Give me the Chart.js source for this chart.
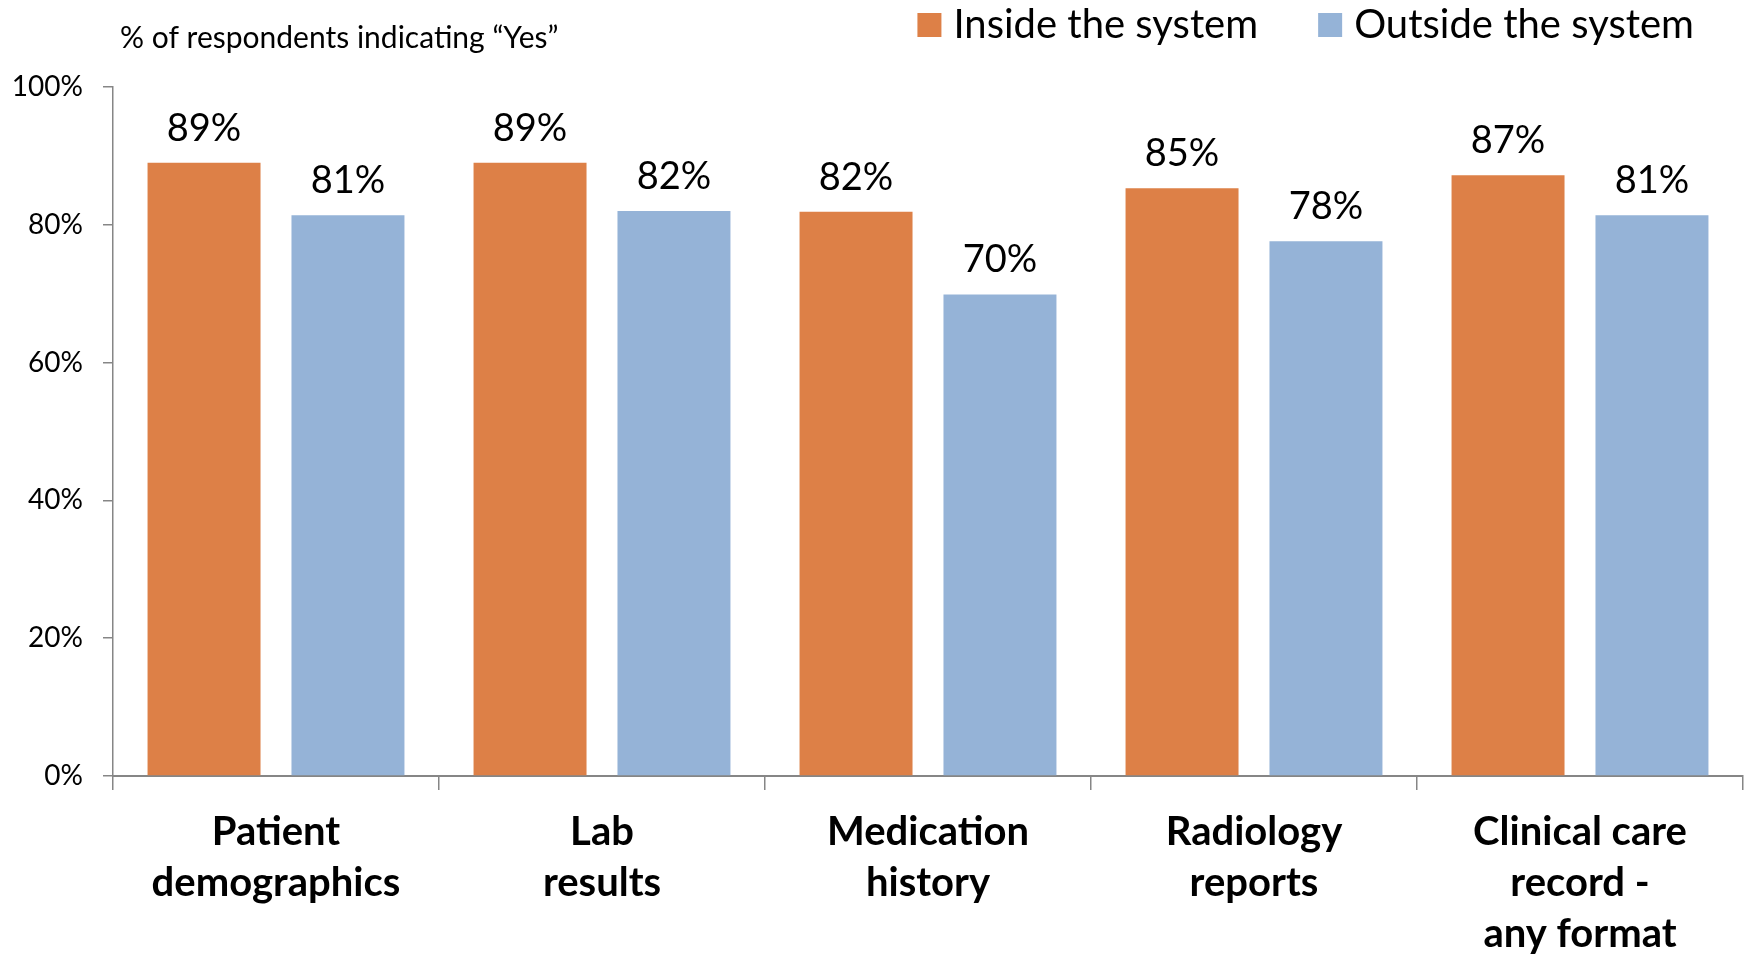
<!DOCTYPE html>
<html>
<head>
<meta charset="utf-8">
<title>Data available inside and outside the system</title>
<script src="https://cdn.jsdelivr.net/npm/chart.js"></script>
<style>
  html, body { margin: 0; padding: 0; background: #fff; }
  #wrap { width: 1750px; height: 957px; position: relative; }
</style>
</head>
<body>
<div id="wrap"><canvas id="chart"></canvas></div>
<script>
  // values (percent)
  const categories = [
    ['Patient', 'demographics'],
    ['Lab', 'results'],
    ['Medication', 'history'],
    ['Radiology', 'reports'],
    ['Clinical care', 'record -', 'any format']
  ];
  const insideValues = [89.0, 89.0, 81.9, 85.3, 87.2];
  const outsideValues = [81.4, 82.0, 69.9, 77.6, 81.4];
  const seriesNames = ['Inside the system', 'Outside the system'];
  const seriesColors = ['#DD8047', '#95B3D7'];
  const yTicks = [0, 20, 40, 60, 80, 100];
  const headerText = '% of respondents indicating \u201cYes\u201d';

  const FONT = 'Lato, "Open Sans", sans-serif';
  const axisGray = '#868686';

  // header text at top left and the legend at top right
  const headerPlugin = {
    id: 'header',
    afterDraw(chart) {
      const ctx = chart.ctx;
      ctx.save();
      ctx.fillStyle = '#000';
      ctx.textBaseline = 'middle';
      ctx.font = '30px ' + FONT;
      ctx.textAlign = 'left';
      ctx.fillText(headerText, 120, 38);

      // legend, laid out right to left so it ends near x=1694
      ctx.font = '40px ' + FONT;
      const box = 24, gapText = 12, gapItem = 60, y = 25;
      let right = 1694;
      const items = chart.data.datasets.map(ds => ({
        text: ds.label, color: ds.backgroundColor, w: ctx.measureText(ds.label).width
      }));
      for (let i = items.length - 1; i >= 0; i--) {
        const it = items[i];
        const textX = right - it.w;
        const boxX = textX - gapText - box;
        ctx.fillStyle = it.color;
        ctx.fillRect(boxX, y - box / 2, box, box);
        ctx.fillStyle = '#000';
        ctx.fillText(it.text, textX, y);
        right = boxX - gapItem;
      }
      ctx.restore();
    }
  };

  // value labels above each bar
  const valueLabels = {
    id: 'valueLabels',
    afterDatasetsDraw(chart) {
      const ctx = chart.ctx;
      ctx.save();
      ctx.font = '38px ' + FONT;
      ctx.fillStyle = '#000';
      ctx.textAlign = 'center';
      ctx.textBaseline = 'alphabetic';
      chart.data.datasets.forEach((ds, i) => {
        chart.getDatasetMeta(i).data.forEach((bar, j) => {
          ctx.fillText(Math.round(ds.data[j]) + '%', bar.x, bar.y - 22);
        });
      });
      ctx.restore();
    }
  };

  const ctx = document.getElementById('chart').getContext('2d');
  const chart = new Chart(ctx, {
    type: 'bar',
    data: {
      labels: categories,
      datasets: [{
        label: seriesNames[0],
        data: insideValues,
        backgroundColor: seriesColors[0],
        borderWidth: 0
      }, {
        label: seriesNames[1],
        data: outsideValues,
        backgroundColor: seriesColors[1],
        borderWidth: 0
      }]
    },
    options: {
      responsive: true,
      maintainAspectRatio: false,
      animation: false,
      layout: { padding: { top: 87, left: 0, right: 7, bottom: 0 } },
      datasets: {
        bar: { categoryPercentage: 0.883, barPercentage: 0.785 }
      },
      plugins: {
        legend: { display: false },
        tooltip: { enabled: false }
      },
      scales: {
        x: {
          grid: {
            display: true,
            drawOnChartArea: false,
            drawTicks: true,
            tickLength: 14,
            color: axisGray,
            lineWidth: 1.5,
            offset: true
          },
          border: { color: axisGray, width: 2 },
          ticks: {
            color: '#000',
            padding: 16,
            maxRotation: 0,
            autoSkip: false,
            font: { family: FONT, size: 40, weight: 'bold', lineHeight: 1.28 }
          },
          afterFit(scale) { scale.height = 181; }
        },
        y: {
          min: 0,
          max: 100,
          afterBuildTicks(scale) {
            scale.ticks = yTicks.map(v => ({ value: v }));
          },
          grid: {
            display: true,
            drawOnChartArea: false,
            drawTicks: true,
            tickLength: 10,
            color: axisGray,
            lineWidth: 1.5
          },
          border: { color: axisGray, width: 1.5 },
          ticks: {
            color: '#000',
            padding: 20,
            font: { family: FONT, size: 28 },
            callback: v => v + '%'
          },
          afterFit(scale) { scale.width = 113; }
        }
      }
    },
    plugins: [headerPlugin, valueLabels]
  });
</script>
</body>
</html>
